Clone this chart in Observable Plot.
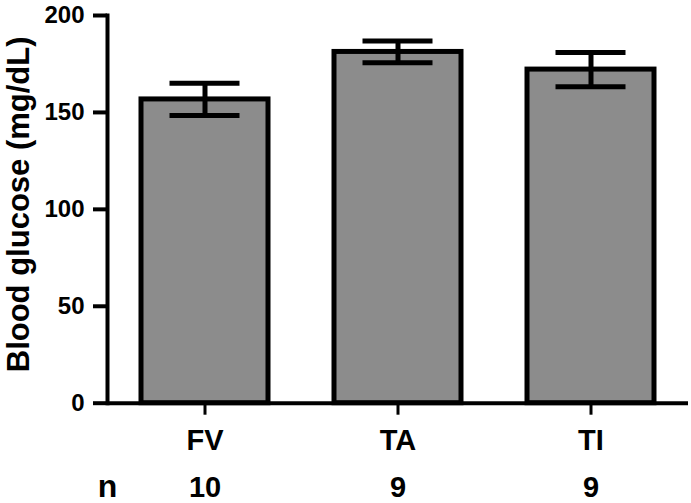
<!DOCTYPE html>
<html>
<head>
<meta charset="utf-8">
<script src="https://cdn.jsdelivr.net/npm/d3@7"></script>
<script src="https://cdn.jsdelivr.net/npm/@observablehq/plot@0.6"></script>
<style>
  html, body { margin: 0; padding: 0; background: white; }
</style>
</head>
<body>
<div id="chart"></div>
<script>
const categories = ["FV", "TA", "TI"];
const means = [156.7, 181.2, 172.1];
const sems = [8.3, 5.6, 8.8];
const nValues = [10, 9, 9];
const yTicks = [0, 50, 100, 150, 200];
const yLabel = "Blood glucose (mg/dL)";
const nLabel = "n";

const data = categories.map((c, i) => ({
  group: c,
  mean: means[i],
  lo: means[i] - sems[i],
  hi: means[i] + sems[i],
  n: nValues[i]
}));

const chart = Plot.plot({
  width: 691,
  height: 503,
  marginLeft: 107,
  marginRight: 3,
  marginTop: 15,
  marginBottom: 100.3,
  x: { domain: categories, paddingInner: 0.34, paddingOuter: 0.1675, label: null },
  y: { domain: [0, 200], label: null },
  style: { fontFamily: "'Liberation Sans', Arial, sans-serif", background: "white", color: "black" },
  marks: [
    Plot.barY(data, { x: "group", y: "mean", fill: "#8c8c8c", stroke: "black", strokeWidth: 5 }),
    Plot.ruleX(data, { x: "group", y1: "lo", y2: "hi", stroke: "black", strokeWidth: 5 }),
    Plot.tickY(data, { x: "group", y: "lo", stroke: "black", strokeWidth: 5, insetLeft: 28.5, insetRight: 28.5 }),
    Plot.tickY(data, { x: "group", y: "hi", stroke: "black", strokeWidth: 5, insetLeft: 28.5, insetRight: 28.5 }),
    Plot.ruleY([0], { stroke: "black", strokeWidth: 4 }),
    Plot.frame({ anchor: "left", stroke: "black", strokeWidth: 4 }),
    Plot.axisY({ ticks: yTicks, tickSize: 14, tickPadding: 9, strokeWidth: 4, fontSize: 24, fontWeight: "bold", label: null }),
    Plot.axisX({ tickSize: 12, tickPadding: 14, strokeWidth: 3, fontSize: 29, fontWeight: "bold", label: null }),
    Plot.text(data, { x: "group", text: d => String(d.n), frameAnchor: "bottom", dy: 73.5, lineAnchor: "top", textAnchor: "middle", fontSize: 29, fontWeight: "bold" }),
    Plot.text([nLabel], { text: d => d, frameAnchor: "bottom-left", dy: 70.6, lineAnchor: "top", textAnchor: "middle", fontSize: 32, fontWeight: "bold" }),
    Plot.text([yLabel], { text: d => d, frameAnchor: "left", rotate: -90, dx: -88, dy: -5, textAnchor: "middle", lineAnchor: "middle", fontSize: 31, fontWeight: "bold" })
  ]
});

document.getElementById("chart").appendChild(chart);
</script>
</body>
</html>
